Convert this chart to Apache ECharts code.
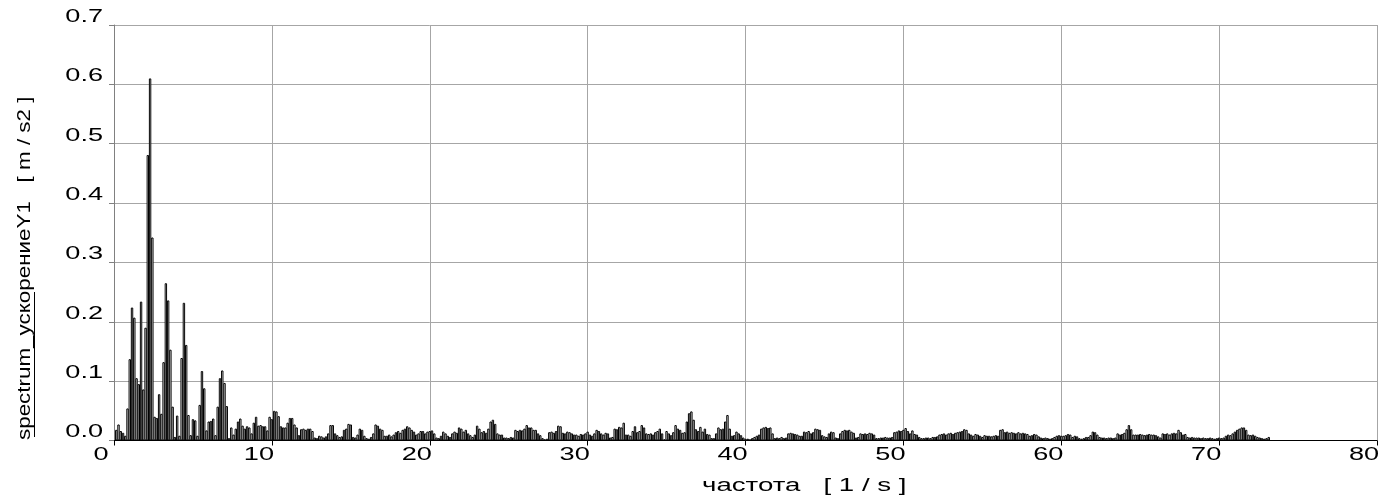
<!DOCTYPE html>
<html>
<head>
<meta charset="utf-8">
<script src="https://cdn.jsdelivr.net/npm/echarts@6/dist/echarts.min.js"></script>
<style>
  html, body { margin: 0; padding: 0; background: #fff; }
  #chart { width: 1386px; height: 498px; }
</style>
</head>
<body>
<div id="chart"></div>
<script>
// Frequency resolution of the spectrum (Hz per bin); bin k sits at k * BIN_STEP.
const BIN_STEP = 1 / 7;

// Amplitudes [m/s2], one array per 10 Hz band (70 bins each).
const amp0to10 = [
  0.018, 0.027, 0.016, 0.013, 0.008, 0.054, 0.137, 0.224, 0.207, 0.105,
  0.095, 0.234, 0.086, 0.190, 0.481, 0.610, 0.342, 0.040, 0.038, 0.078,
  0.045, 0.132, 0.265, 0.236, 0.153, 0.057, 0.006, 0.042, 0.008, 0.139,
  0.232, 0.161, 0.043, 0.009, 0.036, 0.034, 0.008, 0.060, 0.117, 0.088,
  0.017, 0.032, 0.033, 0.037, 0.009, 0.057, 0.105, 0.118, 0.097, 0.058,
  0.004, 0.022, 0.010, 0.020, 0.032, 0.037, 0.025, 0.020, 0.024, 0.022,
  0.012, 0.030, 0.040, 0.025, 0.026, 0.024, 0.024, 0.017, 0.040, 0.036
];
const amp10to20 = [
  0.050, 0.049, 0.041, 0.024, 0.022, 0.022, 0.030, 0.038, 0.038, 0.027,
  0.022, 0.009, 0.019, 0.020, 0.018, 0.020, 0.020, 0.016, 0.005, 0.004,
  0.008, 0.007, 0.005, 0.007, 0.012, 0.026, 0.026, 0.012, 0.009, 0.006,
  0.007, 0.018, 0.020, 0.028, 0.027, 0.006, 0.005, 0.010, 0.020, 0.018,
  0.008, 0.004, 0.003, 0.006, 0.012, 0.027, 0.025, 0.020, 0.018, 0.008,
  0.008, 0.010, 0.007, 0.010, 0.014, 0.016, 0.013, 0.018, 0.020, 0.024,
  0.022, 0.018, 0.015, 0.010, 0.012, 0.016, 0.016, 0.012, 0.015, 0.016
];
const amp20to30 = [
  0.017, 0.012, 0.005, 0.004, 0.008, 0.015, 0.012, 0.008, 0.006, 0.012,
  0.015, 0.013, 0.022, 0.020, 0.015, 0.018, 0.012, 0.009, 0.006, 0.010,
  0.025, 0.020, 0.014, 0.016, 0.013, 0.020, 0.032, 0.035, 0.028, 0.012,
  0.010, 0.010, 0.005, 0.005, 0.004, 0.006, 0.005, 0.018, 0.016, 0.018,
  0.017, 0.020, 0.026, 0.022, 0.022, 0.018, 0.018, 0.012, 0.009, 0.004,
  0.002, 0.003, 0.014, 0.015, 0.013, 0.016, 0.025, 0.024, 0.013, 0.012,
  0.015, 0.014, 0.012, 0.010, 0.010, 0.008, 0.011, 0.010, 0.012, 0.015
];
const amp30to40 = [
  0.010, 0.008, 0.012, 0.018, 0.016, 0.012, 0.010, 0.013, 0.012, 0.005,
  0.006, 0.020, 0.019, 0.023, 0.022, 0.030, 0.010, 0.010, 0.008, 0.016,
  0.024, 0.014, 0.016, 0.026, 0.022, 0.012, 0.011, 0.012, 0.010, 0.014,
  0.016, 0.020, 0.012, 0.002, 0.016, 0.012, 0.009, 0.014, 0.026, 0.020,
  0.018, 0.013, 0.014, 0.032, 0.046, 0.049, 0.035, 0.019, 0.016, 0.023,
  0.015, 0.020, 0.011, 0.010, 0.004, 0.004, 0.012, 0.022, 0.019, 0.020,
  0.032, 0.043, 0.020, 0.008, 0.009, 0.015, 0.012, 0.009, 0.005, 0.003
];
const amp40to50 = [
  0.003, 0.002, 0.004, 0.006, 0.008, 0.010, 0.020, 0.022, 0.023, 0.021,
  0.022, 0.012, 0.004, 0.005, 0.004, 0.006, 0.004, 0.005, 0.012, 0.013,
  0.012, 0.011, 0.010, 0.008, 0.008, 0.015, 0.014, 0.016, 0.012, 0.014,
  0.020, 0.019, 0.018, 0.009, 0.007, 0.006, 0.012, 0.015, 0.014, 0.005,
  0.004, 0.012, 0.016, 0.018, 0.017, 0.018, 0.015, 0.013, 0.005, 0.006,
  0.012, 0.011, 0.012, 0.011, 0.013, 0.012, 0.010, 0.004, 0.004, 0.005,
  0.005, 0.006, 0.005, 0.005, 0.006, 0.014, 0.015, 0.017, 0.016, 0.018
];
const amp50to60 = [
  0.021, 0.016, 0.012, 0.017, 0.011, 0.010, 0.006, 0.004, 0.004, 0.005,
  0.005, 0.004, 0.006, 0.006, 0.007, 0.010, 0.011, 0.012, 0.010, 0.012,
  0.013, 0.011, 0.013, 0.014, 0.015, 0.016, 0.019, 0.018, 0.012, 0.010,
  0.008, 0.011, 0.010, 0.008, 0.006, 0.009, 0.008, 0.008, 0.007, 0.008,
  0.009, 0.008, 0.018, 0.019, 0.014, 0.015, 0.013, 0.014, 0.013, 0.012,
  0.014, 0.012, 0.013, 0.012, 0.011, 0.008, 0.009, 0.011, 0.010, 0.007,
  0.005, 0.004, 0.005, 0.004, 0.003, 0.004, 0.006, 0.008, 0.009, 0.008
];
const amp60to70 = [
  0.008, 0.009, 0.011, 0.010, 0.006, 0.008, 0.007, 0.004, 0.003, 0.004,
  0.006, 0.006, 0.009, 0.015, 0.014, 0.010, 0.006, 0.005, 0.005, 0.004,
  0.005, 0.005, 0.004, 0.005, 0.012, 0.010, 0.011, 0.013, 0.019, 0.026,
  0.019, 0.010, 0.010, 0.010, 0.011, 0.010, 0.009, 0.010, 0.011, 0.010,
  0.010, 0.009, 0.007, 0.005, 0.012, 0.011, 0.012, 0.010, 0.012, 0.013,
  0.012, 0.018, 0.014, 0.010, 0.011, 0.006, 0.005, 0.006, 0.005, 0.005,
  0.005, 0.004, 0.005, 0.004, 0.004, 0.005, 0.004, 0.003, 0.004, 0.005
];
const amp70up = [
  0.004, 0.005, 0.008, 0.010, 0.009, 0.012, 0.015, 0.018, 0.020, 0.022,
  0.022, 0.018, 0.010, 0.009, 0.010, 0.008, 0.006, 0.005, 0.004, 0.003,
  0.004, 0.006
];

// Axis tick labels and titles.
const xTickLabels = ['0', '10', '20', '30', '40', '50', '60', '70', '80'];
const yTickLabels = ['0.0', '0.1', '0.2', '0.3', '0.4', '0.5', '0.6', '0.7'];
const xTitle = 'частота   [ 1 / s ]';
const yTitle = 'spectrum_ускорениеY1   [ m / s2 ]';

const amplitudes = [].concat(amp0to10, amp10to20, amp20to30, amp30to40,
                             amp40to50, amp50to60, amp60to70, amp70up);
const spectrum = amplitudes.map((v, i) => [(i + 1) * BIN_STEP, v]);

const FONT = '17.5px "Liberation Sans", Arial, sans-serif';
const STRETCH = 1.55;   // labels are drawn in a widened face

const chart = echarts.init(document.getElementById('chart'), null, { renderer: 'canvas' });

chart.setOption({
  animation: false,
  backgroundColor: '#ffffff',
  grid: { left: 114, right: 9, top: 25, bottom: 57.5 },
  xAxis: {
    type: 'value', min: 0, max: 80, interval: 10,
    axisLine: { show: true, onZero: false, lineStyle: { color: '#000', width: 1 } },
    axisTick: { show: true, length: 5, lineStyle: { color: '#000', width: 1 } },
    axisLabel: { show: false },
    splitLine: { show: true, lineStyle: { color: '#a6a6a6', width: 1 } }
  },
  yAxis: {
    type: 'value', min: 0, max: 0.7, interval: 0.1,
    axisLine: { show: true, lineStyle: { color: '#808080', width: 1 } },
    axisTick: { show: true, length: 5, lineStyle: { color: '#808080', width: 1 } },
    axisLabel: { show: false },
    splitLine: { show: true, lineStyle: { color: '#a6a6a6', width: 1 } }
  },
  series: [{
    type: 'bar',
    data: spectrum,
    barWidth: 2.4,
    silent: true,
    itemStyle: { color: '#ffffff', borderColor: '#000000', borderWidth: 1 }
  }]
});

// Tick labels and titles, placed from the axes' own scales.
const labels = [];
xTickLabels.forEach(t => {
  const px = chart.convertToPixel({ xAxisIndex: 0 }, Number(t));
  labels.push({
    type: 'text', x: px - 13, y: 446, scaleX: STRETCH, silent: true,
    style: { text: t, font: FONT, fill: '#000', align: 'center', verticalAlign: 'top',
             textAlign: 'center', textVerticalAlign: 'top' }
  });
});
yTickLabels.forEach(t => {
  const py = chart.convertToPixel({ yAxisIndex: 0 }, Number(t));
  labels.push({
    type: 'text', x: 103, y: py + 1, scaleX: STRETCH, silent: true,
    style: { text: t, font: FONT, fill: '#000', align: 'right', verticalAlign: 'bottom',
             textAlign: 'right', textVerticalAlign: 'bottom' }
  });
});
labels.push({
  type: 'text', x: 702, y: 486, scaleX: 1.58, silent: true,
  style: { text: xTitle, font: FONT, fill: '#000', align: 'left', verticalAlign: 'middle',
           textAlign: 'left', textVerticalAlign: 'middle' }
});
labels.push({
  type: 'text', x: 25, y: 440, rotation: Math.PI / 2, scaleX: 1.28, silent: true,
  style: { text: yTitle, font: FONT, fill: '#000', align: 'left', verticalAlign: 'middle',
           textAlign: 'left', textVerticalAlign: 'middle' }
});
labels.push({
  type: 'line', silent: true,
  shape: { x1: 34.5, y1: 292, x2: 34.5, y2: 437 },
  style: { stroke: '#000', lineWidth: 1 }
});

chart.setOption({ graphic: labels });
</script>
</body>
</html>
